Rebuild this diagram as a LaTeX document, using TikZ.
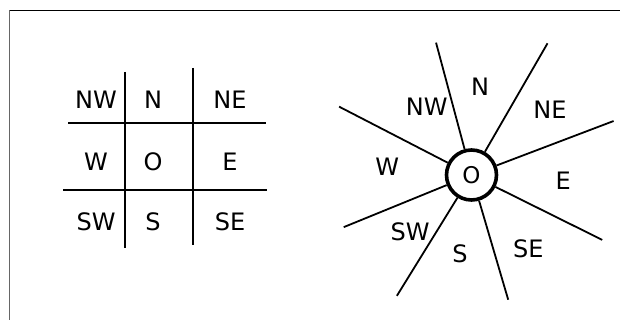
\documentclass[tikz,border=0pt]{standalone}
\usepackage{fontspec}
\setmainfont{DejaVu Sans}

\tikzset{
    lbl/.style={font=\fontsize{24}{28}\selectfont, inner sep=0pt},
    hub/.style={circle, draw, line width=3.6pt, minimum size=50pt, inner sep=0pt, font=\fontsize{23}{27}\selectfont},
    ray/.style={line width=1.8pt}
}

\begin{document}
\begin{tikzpicture}[x=1pt, y=1pt]
        \useasboundingbox (0,0) rectangle (620,320);
        \draw[gray!80!black, line width=1pt] (9.5,309.5) -- (9.5,-20);
        \draw[line width=1.2pt] (9.5,309.5) -- (640,309.5);
        % grid on the left
        \foreach \n/\x/\y in {NW/96/220, N/153/220, NE/230/220, W/96/158, O/153/158, E/230/158, SW/96/98, S/153/98, SE/230/98} {
            \node[lbl] (g\n) at (\x,\y) {\n};
        }
        \draw[ray] (124.7,248) -- (124.7,72);
        \draw[ray] (192.7,252) -- (192.7,75);
        \draw[ray] (68,196.7) -- (265.7,196.7);
        \draw[ray] (63,129.7) -- (267,129.7);
        % compass on the right
        \node[hub] (O) at (471.5,145) {O};
        \foreach \a/\r [count=\k] in {105/137, 60/152, 20.8/152, -26.4/146, -73.6/130, 238.3/142, 202.2/138, 152.7/149} {
            \path (O) ++(\a:\r) coordinate (r\k);
            \draw[ray] (O) -- (r\k);
        }
        \foreach \n/\x/\y in {N/480/233.3, NW/426.7/213, NE/550/210, W/387.3/153.3, E/563.3/139, SW/410/88.3, S/460/66, SE/528.3/71.7} {
            \node[lbl] (c\n) at (\x,\y) {\n};
        }
    \end{tikzpicture}
\end{document}
